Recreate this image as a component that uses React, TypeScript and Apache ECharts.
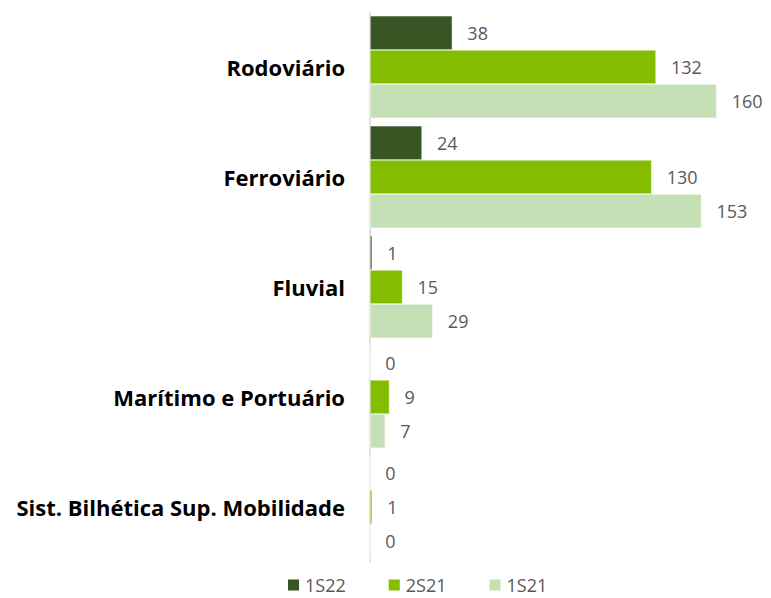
import React, { useEffect, useRef } from "react";
import * as echarts from "echarts";

const categories = [
  "Rodoviário",
  "Ferroviário",
  "Fluvial",
  "Marítimo e Portuário",
  "Sist. Bilhética Sup. Mobilidade",
];
const seriesNames = ["1S22", "2S21", "1S21"];
const values1S22 = [38, 24, 1, 0, 0];
const values2S21 = [132, 130, 15, 9, 1];
const values1S21 = [160, 153, 29, 7, 0];
const colors = ["#375623", "#84BC00", "#C5E0B4"];

export default function App() {
  const ref = useRef<HTMLDivElement>(null);
  useEffect(() => {
    const chart = echarts.init(ref.current!, undefined, { renderer: "svg" });
    const data = [values1S22, values2S21, values1S21];
    chart.setOption({
      animation: false,
      textStyle: { fontFamily: "Open Sans" },
      grid: { left: 362, right: 3, top: 4, bottom: 36 },
      legend: {
        top: 568,
        left: 278,
        padding: 0,
        itemWidth: 13,
        itemHeight: 13,
        itemGap: 41,
        icon: "rect",
        textStyle: {
          fontSize: 18,
          lineHeight: 18,
          color: "#595959",
          fontFamily: "Open Sans",
        },
        data: seriesNames,
      },
      xAxis: {
        type: "value",
        min: 0,
        max: 180,
        show: false,
      },
      yAxis: {
        type: "category",
        inverse: true,
        data: categories,
        axisLine: { show: true, lineStyle: { color: "#d9d9d9", width: 1.5 } },
        axisTick: { show: false },
        axisLabel: {
          fontSize: 22,
          fontWeight: "bold",
          color: "#000",
          margin: 25,
          fontFamily: "Open Sans",
        },
      },
      series: seriesNames.map((name, i) => ({
        name,
        type: "bar",
        data: data[i],
        barGap: "0%",
        barCategoryGap: "7%",
        itemStyle: { color: colors[i], borderColor: "#ffffff", borderWidth: 0.5 },
        label: {
          show: true,
          position: "right",
          distance: 15,
          fontSize: 18,
          color: "#595959",
          fontFamily: "Open Sans",
        },
      })),
    });
    return () => chart.dispose();
  }, []);
  return <div ref={ref} style={{ width: 755, height: 590 }} />;
}
